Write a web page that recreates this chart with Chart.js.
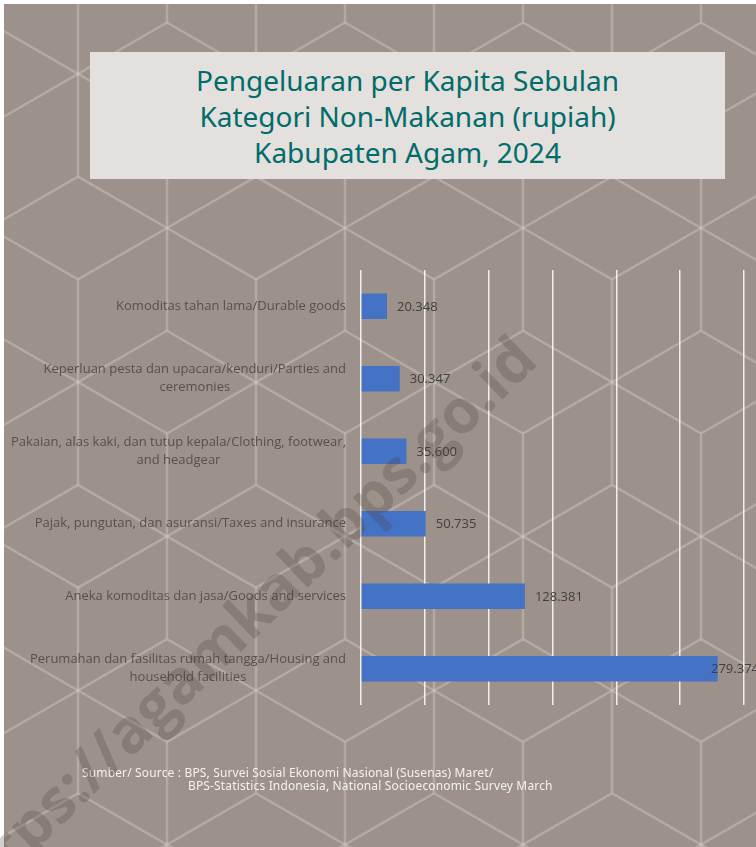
<!DOCTYPE html>
<html>
<head>
<meta charset="utf-8">
<script src="https://cdn.jsdelivr.net/npm/chart.js@4"></script>
<style>
  html, body { margin: 0; padding: 0; background: #fff; width: 756px; height: 847px; overflow: hidden; }
  #bg { position: absolute; left: 4px; top: 4px; width: 752px; height: 843px; background: #9d928b; }
  #pola { position: absolute; left: 4px; top: 4px; }
  #judul {
    position: absolute; left: 90px; top: 52px; width: 635px; height: 127px;
    background: #e4e0dd; box-sizing: border-box; padding-top: 10px;
    color: #006d6b; font-family: "Comic Sans MS", "Noto Sans", sans-serif;
    font-size: 28px; line-height: 36px; text-align: center;
  }
  #wadah { position: absolute; left: 0; top: 250px; width: 756px; height: 470px; }
  #sumber {
    position: absolute; left: 82px; top: 766px; color: #f4f2f0;
    font-family: "Comic Sans MS", "Noto Sans", sans-serif; font-size: 12px; line-height: 13px;
    letter-spacing: 0.15px; white-space: nowrap;
  }
  #tanda {
    position: absolute; left: 236px; top: 624px; transform: translate(-50%, -50%) rotate(-44deg);
    font-family: "Open Sans", sans-serif; font-weight: 700; font-size: 61px;
    color: rgba(70, 60, 55, 0.25); white-space: nowrap; pointer-events: none;
  }
</style>
</head>
<body>
<div id="bg"></div>
<canvas id="pola" width="752" height="843"></canvas>
<div id="judul">Pengeluaran per Kapita Sebulan<br>Kategori Non-Makanan (rupiah)<br>Kabupaten Agam, 2024</div>
<div id="wadah"><canvas id="grafik"></canvas></div>
<div id="sumber">Sumber/ Source : BPS, Survei Sosial Ekonomi Nasional (Susenas) Maret/<br><span style="padding-left:106px">BPS-Statistics Indonesia, National Socioeconomic Survey March</span></div>
<div id="tanda">https://agamkab.bps.go.id</div>
<script>
const kategori = [
  ['Komoditas tahan lama/Durable goods'],
  ['Keperluan pesta dan upacara/kenduri/Parties and', 'ceremonies'],
  ['Pakaian, alas kaki, dan tutup kepala/Clothing, footwear,', 'and headgear'],
  ['Pajak, pungutan, dan asuransi/Taxes and insurance'],
  ['Aneka komoditas dan jasa/Goods and services'],
  ['Perumahan dan fasilitas rumah tangga/Housing and', 'household facilities']
]
const nilai = [20348, 30347, 35600, 50735, 128381, 279374]
const sumbuMaks = 300000
const langkah = 50000

function formatRupiah(v){
  return String(v).replace(/\B(?=(\d{3})+(?!\d))/g, '.')
}

// pola heksagon latar
function gambarPola(){
  const cv = document.getElementById('pola')
  const ctx = cv.getContext('2d')
  const a = 178, L = a / Math.sqrt(3), h = a * Math.sqrt(3) / 2
  const ox = 167 - 4, oy = 228 - 4
  ctx.strokeStyle = 'rgba(215,210,205,0.38)'
  ctx.lineWidth = 2.5
  for (let j = -3; j <= 7; j++){
    for (let i = -4; i <= 7; i++){
      const px = ox + i * a + j * a / 2
      const py = oy + j * h
      for (let k = 0; k < 6; k++){
        const t = (30 + k * 60) * Math.PI / 180
        ctx.beginPath()
        ctx.moveTo(px, py)
        ctx.lineTo(px + L * Math.cos(t), py + L * Math.sin(t))
        ctx.stroke()
      }
    }
  }
}
gambarPola()

const labelKategori = {
  id: 'labelKategori',
  afterDraw(chart){
    const ctx = chart.ctx
    const y = chart.scales.y
    const kanan = chart.chartArea.left - 15
    ctx.save()
    ctx.font = '13px "Open Sans", sans-serif'
    ctx.fillStyle = '#57504c'
    ctx.textAlign = 'center'
    ctx.textBaseline = 'middle'
    kategori.forEach((baris, i) => {
      const cy = y.getPixelForValue(i)
      const lebar = Math.max(...baris.map(b => ctx.measureText(b).width))
      const cx = kanan - lebar / 2
      baris.forEach((b, n) => {
        ctx.fillText(b, cx, cy + (n - (baris.length - 1) / 2) * 18)
      })
    })
    ctx.restore()
  }
}

const labelNilai = {
  id: 'labelNilai',
  afterDatasetsDraw(chart){
    const ctx = chart.ctx
    const meta = chart.getDatasetMeta(0)
    ctx.save()
    ctx.font = '13px "Open Sans", sans-serif'
    ctx.fillStyle = '#3f3f3f'
    ctx.textAlign = 'left'
    ctx.textBaseline = 'middle'
    meta.data.forEach((bar, i) => {
      const teks = formatRupiah(nilai[i])
      const w = ctx.measureText(teks).width
      const x = Math.min(bar.x + 10, chart.width - w + 3)
      ctx.fillText(teks, x, bar.y + 1)
    })
    ctx.restore()
  }
}

new Chart(document.getElementById('grafik'), {
  type: 'bar',
  data: {
    labels: kategori,
    datasets: [{
      data: nilai,
      backgroundColor: '#4472c4',
      borderWidth: 0,
      categoryPercentage: 1,
      barPercentage: 0.35
    }]
  },
  options: {
    indexAxis: 'y',
    responsive: true,
    maintainAspectRatio: false,
    animation: false,
    layout: { padding: { left: 361, right: 12, top: 20, bottom: 15 } },
    plugins: { legend: { display: false }, tooltip: { enabled: false } },
    scales: {
      x: {
        min: 0, max: sumbuMaks,
        ticks: { display: false, stepSize: langkah },
        grid: { color: 'rgba(255,255,255,0.85)', lineWidth: 1.5, drawTicks: false },
        border: { display: false }
      },
      y: {
        display: false
      }
    }
  },
  plugins: [labelKategori, labelNilai]
})
</script>
</body>
</html>
